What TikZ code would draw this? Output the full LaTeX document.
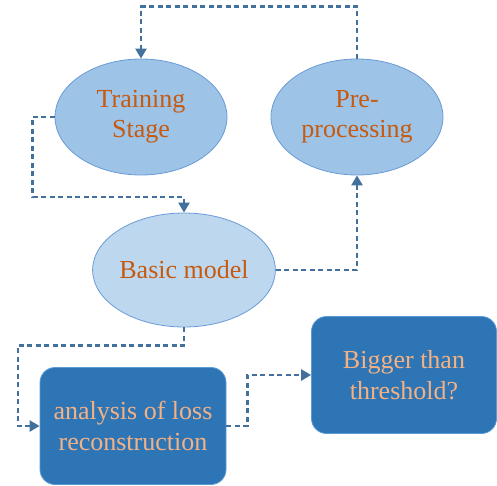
\documentclass[tikz,border=0pt]{standalone}
\usepackage{fontspec}
\setmainfont{Liberation Serif}
\usetikzlibrary{arrows.meta,shapes.geometric}

\definecolor{ovalfill}{HTML}{9DC3E6}
\definecolor{ovallight}{HTML}{BDD7EE}
\definecolor{ovalline}{HTML}{6A9BD8}
\definecolor{ovaltext}{HTML}{C55A11}
\definecolor{boxfill}{HTML}{2E75B6}
\definecolor{boxline}{HTML}{5B9BD5}
\definecolor{boxtext}{HTML}{F4B183}
\definecolor{flowline}{HTML}{41719C}

\tikzset{
  oval/.style={ellipse, draw=ovalline, fill=ovalfill, line width=0.8pt,
    minimum width=172pt, minimum height=116pt, inner sep=0pt,
    text=ovaltext, align=center, font=\fontsize{26}{30}\selectfont},
  stepbox/.style={rectangle, rounded corners=15pt, draw=boxline, fill=boxfill,
    line width=0.8pt, minimum width=185pt, minimum height=117pt, inner sep=0pt,
    text=boxtext, align=center, font=\fontsize{26}{31}\selectfont},
  flow/.style={draw=flowline, line width=2.8pt, dash pattern=on 5pt off 3.5pt,
    -{Triangle[width=11pt,length=10pt]}}
}

\begin{document}
\begin{tikzpicture}[x=1pt, y=-1pt]
  \useasboundingbox (0,0) rectangle (497,486);
  \node (training) [oval] at (141,117) {Training\\Stage};
  \node (preproc) [oval] at (357,117) {Pre-\\processing};
  \node (basic) [oval, fill=ovallight, minimum height=114pt] at (184,270) {Basic model};
  \node (analysis) [stepbox, minimum width=186pt] at (133,426) {analysis of loss\\reconstruction};
  \node (bigger) [stepbox] at (404,375) {Bigger than\\threshold?};
  \draw[flow] (preproc.north) -- ++(0,-52) -| (training.north);
  \draw[flow] (training.west) -- ++(-22,0) -- ++(0,80) -| (basic.north);
  \draw[flow] (basic.east) -| (preproc.south);
  \draw[flow] (basic.south) -- ++(0,18) -- ++(-166,0) |- (analysis.west);
  \draw[flow] (analysis.east) -- ++(21,0) |- (bigger.west);
\end{tikzpicture}
\end{document}
